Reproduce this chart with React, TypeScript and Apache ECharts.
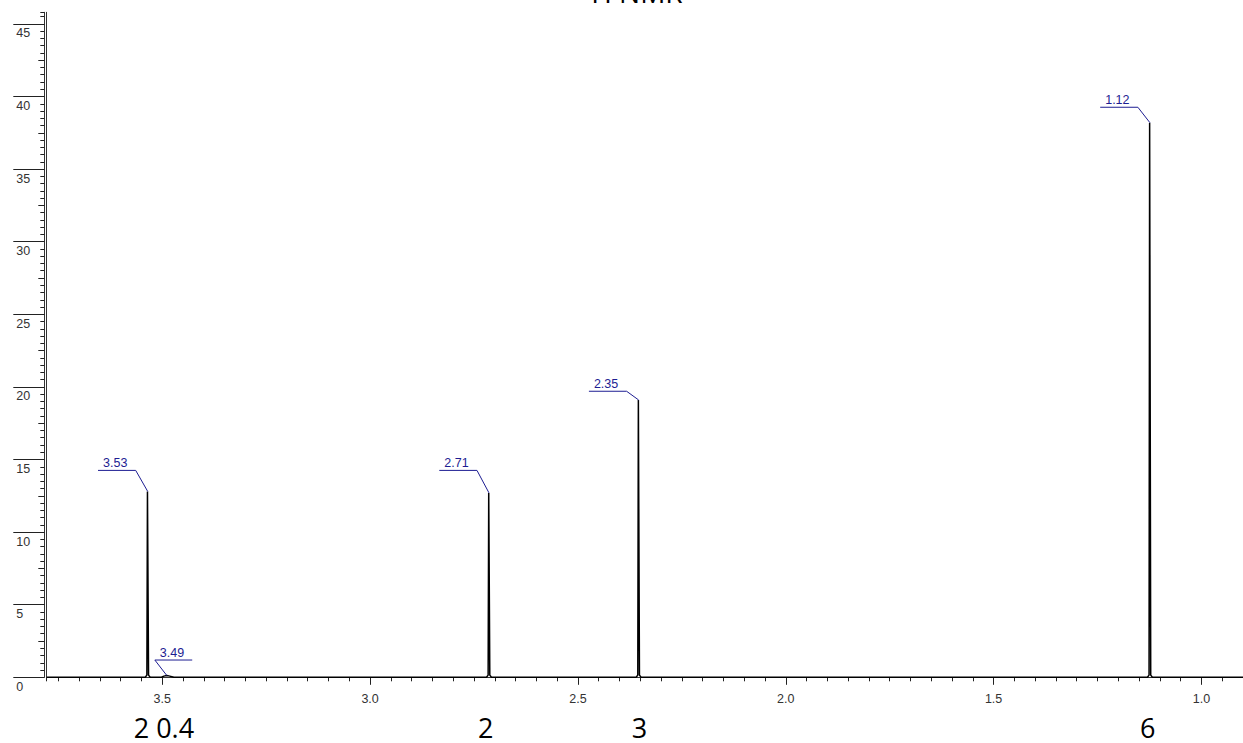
import React, { useEffect, useRef } from "react";
import * as echarts from "echarts";

// Axis tick values
const xMajorTicks = [3.5, 3.0, 2.5, 2.0, 1.5, 1.0];
const yMajorTicks = [0, 5, 10, 15, 20, 25, 30, 35, 40, 45];
const yMidTicks = [2.5, 7.5, 12.5, 17.5, 22.5, 27.5, 32.5, 37.5, 42.5];

// Spectrum trace [ppm, intensity]
const spectrum: [number, number][] = [
  [3.778, 0],
  [3.541, 0],
  [3.537, 0.15],
  [3.5356, 12.8],
  [3.5344, 12.8],
  [3.533, 0.15],
  [3.529, 0],
  [3.502, 0],
  [3.496, 0.08],
  [3.489, 0.12],
  [3.482, 0.08],
  [3.472, 0],
  [2.72, 0],
  [2.716, 0.15],
  [2.7146, 12.7],
  [2.7134, 12.7],
  [2.712, 0.15],
  [2.708, 0],
  [2.36, 0],
  [2.356, 0.15],
  [2.3546, 19.1],
  [2.3534, 19.1],
  [2.352, 0.15],
  [2.348, 0],
  [1.13, 0],
  [1.126, 0.15],
  [1.1246, 38.2],
  [1.1234, 38.2],
  [1.122, 0.15],
  [1.118, 0],
  [0.9, 0],
];

// Peak picking labels
const peakPpm = [3.535, 3.489, 2.714, 2.354, 1.124];
const peakHeight = [12.8, 0.12, 12.7, 19.1, 38.2];
const peakLabels = ["3.53", "3.49", "2.71", "2.35", "1.12"];
const peakLabelLevel = [14.25, 1.19, 14.25, 19.7, 39.26];
const peakLabelSide = [-1, 1, -1, -1, -1];

// Integration labels
const integralPpm = [3.496, 2.722, 2.352, 1.129];
const integralText = ["2 0.4", "2", "3", "6"];

const X_MIN = 0.9;
const X_MAX = 3.778;
const Y_MIN = 0;
const Y_MAX = 45.8;

const AXIS_COLOR = "#333";
const TICK_COLOR = "#222";
const LABEL_BLUE = "#1d1d92";
const AXIS_FONT = "Liberation Sans";

function integralLabel(v: number): string {
  let best = 0;
  for (let i = 1; i < integralPpm.length; i++) {
    if (Math.abs(integralPpm[i] - v) < Math.abs(integralPpm[best] - v)) best = i;
  }
  return integralText[best];
}

export default function App() {
  const ref = useRef<HTMLDivElement>(null);

  useEffect(() => {
    if (!ref.current) return;
    const chart = echarts.init(ref.current, undefined, { renderer: "svg" });

    const baseX = {
      type: "value",
      min: X_MIN,
      max: X_MAX,
      inverse: true,
      position: "bottom",
      splitLine: { show: false },
      axisLabel: { show: false },
      axisTick: { show: false },
      axisLine: { show: false },
    };
    const baseY = {
      type: "value",
      min: Y_MIN,
      max: Y_MAX,
      position: "left",
      splitLine: { show: false },
      axisLabel: { show: false },
      axisTick: { show: false },
      axisLine: { show: false },
    };

    const option: any = {
      animation: false,
      backgroundColor: "#fff",
      grid: { left: 46.7, top: 12.3, width: 1197.2, height: 665 },
      xAxis: [
        {
          ...baseX,
          axisLine: { show: true, lineStyle: { color: AXIS_COLOR, width: 1 } },
        },
        {
          ...baseX,
          offset: 2.7,
          interval: 0.05,
          axisLine: { show: true, lineStyle: { color: AXIS_COLOR, width: 1 } },
          axisTick: { show: true, length: 4, lineStyle: { color: TICK_COLOR, width: 1 } },
        },
        {
          ...baseX,
          offset: 2.7,
          axisTick: {
            show: true,
            length: 7.5,
            customValues: xMajorTicks,
            lineStyle: { color: TICK_COLOR, width: 1 },
          },
          axisLabel: {
            show: true,
            customValues: xMajorTicks,
            formatter: (v: number) => v.toFixed(1),
            margin: 12,
            color: AXIS_COLOR,
            fontSize: 12.5,
            fontFamily: AXIS_FONT,
          },
        },
        {
          ...baseX,
          offset: 2.7,
          axisLabel: {
            show: true,
            customValues: integralPpm,
            formatter: (v: number) => integralLabel(v),
            margin: 34,
            color: "#000",
            fontSize: 27,
            lineHeight: 27,
            fontFamily: "Open Sans",
          },
        },
      ],
      yAxis: [
        {
          ...baseY,
          axisLine: { show: true, lineStyle: { color: AXIS_COLOR, width: 1 } },
        },
        {
          ...baseY,
          offset: 2.4,
          interval: 0.5,
          axisLine: { show: true, lineStyle: { color: AXIS_COLOR, width: 1 } },
          axisTick: { show: true, length: 4, lineStyle: { color: TICK_COLOR, width: 1 } },
        },
        {
          ...baseY,
          offset: 2.4,
          axisTick: {
            show: true,
            length: 6,
            customValues: yMidTicks,
            lineStyle: { color: TICK_COLOR, width: 1 },
          },
        },
        {
          ...baseY,
          offset: 2.4,
          axisTick: {
            show: true,
            length: 31,
            customValues: yMajorTicks,
            lineStyle: { color: TICK_COLOR, width: 1 },
          },
          axisLabel: {
            show: true,
            customValues: yMajorTicks,
            margin: 28,
            align: "left",
            verticalAlign: "top",
            padding: [3, 0, 0, 0],
            color: AXIS_COLOR,
            fontSize: 12.5,
            fontFamily: AXIS_FONT,
          },
        },
      ],
      graphic: [
        {
          type: "text",
          x: 632,
          y: -8,
          style: {
            text: "¹H NMR",
            align: "center",
            verticalAlign: "middle",
            font: '28px "Open Sans"',
            fill: "#000",
          },
        },
      ],
      series: [
        {
          type: "line",
          xAxisIndex: 0,
          yAxisIndex: 0,
          data: spectrum,
          symbol: "none",
          lineStyle: { color: "#000", width: 1.5 },
          silent: true,
          z: 3,
        },
        {
          type: "custom",
          xAxisIndex: 0,
          yAxisIndex: 0,
          clip: false,
          silent: true,
          z: 4,
          data: peakPpm.map((p, i) => [p, peakHeight[i], peakLabelLevel[i], peakLabelSide[i]]),
          renderItem: (params: any, api: any) => {
            const top = api.coord([api.value(0), api.value(1)]);
            const lvl = api.coord([api.value(0), api.value(2)]);
            const side = api.value(3);
            const elbowX = top[0] - 12;
            const y = lvl[1];
            const endX = side < 0 ? elbowX - 37.7 : elbowX + 37.4;
            const textX = Math.min(elbowX, endX) + 5;
            return {
              type: "group",
              children: [
                {
                  type: "polyline",
                  shape: { points: [[endX, y], [elbowX, y], [top[0], top[1]]] },
                  style: { stroke: LABEL_BLUE, fill: null, lineWidth: 1 },
                },
                {
                  type: "text",
                  x: textX,
                  y: y - 0.5,
                  style: {
                    text: peakLabels[params.dataIndex],
                    align: "left",
                    verticalAlign: "bottom",
                    fill: LABEL_BLUE,
                    font: `12.5px "${AXIS_FONT}"`,
                  },
                },
              ],
            };
          },
        },
      ],
    };

    chart.setOption(option);
    return () => {
      chart.dispose();
    };
  }, []);

  return (
    <div
      ref={ref}
      style={{ position: "absolute", left: 0, top: 0, width: 1243, height: 743, background: "#fff" }}
    />
  );
}
